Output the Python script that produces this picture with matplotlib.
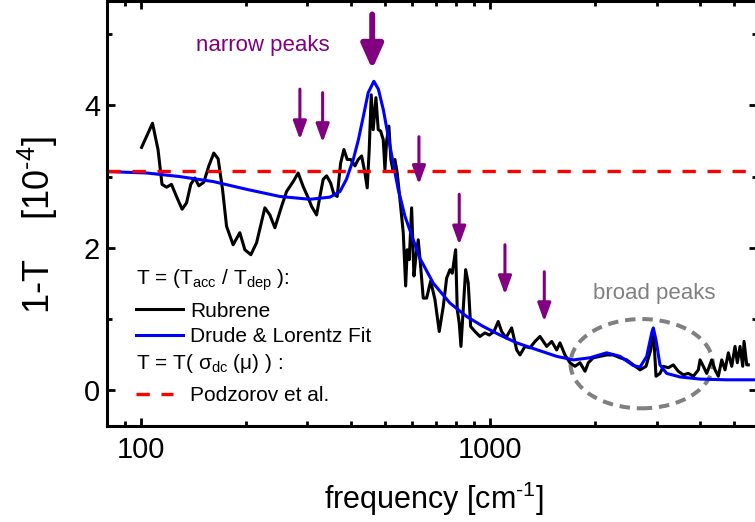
import matplotlib.pyplot as plt
from matplotlib.patches import Ellipse
from matplotlib.ticker import LogLocator, MultipleLocator, NullFormatter

plt.rcParams['font.family'] = ['Liberation Sans', 'DejaVu Sans']
plt.rcParams['mathtext.fontset'] = 'custom'
plt.rcParams['mathtext.rm'] = 'Liberation Sans'
plt.rcParams['mathtext.it'] = 'Liberation Sans:italic'
plt.rcParams['mathtext.bf'] = 'Liberation Sans:bold'

# measured 1-T of rubrene (units of 1e-4)
rub_freq = [100.5, 108, 112, 115, 118.5, 122.4, 126.5, 131.3, 135.2, 139, 142.8, 146.6,
            151.5, 156.6, 161.8, 166.5, 171.4, 176, 183.8, 192.1, 198.6, 206.6, 214.6,
            226.6, 234.2, 242.1, 253, 261.5, 273.2, 282.3, 291.7, 301.6, 308.4, 318.7,
            325.8, 332.9, 340.5, 349.6, 357.3, 365.2, 373.5, 381.7, 390.1, 399, 410.5,
            419.5, 429, 438.4, 445.1, 451, 457, 463, 471.4, 478.6, 486.2, 494.7, 500.2,
            505.8, 513.5, 520.3, 528.3, 534.3, 542.5, 552.3, 564.5, 573.5, 579.5, 587.3,
            596.6, 605.7, 613.8, 623.2, 633, 644, 658.6, 676.3, 695.7, 715.7, 734.9,
            751.5, 768.1, 779.8, 797.4, 805.9, 816.6, 825.9, 838.5, 851.9, 866.6, 880.5,
            905.8, 936.1, 967.6, 995.4, 1027, 1056, 1080, 1111, 1154, 1193, 1219, 1260,
            1302, 1346, 1391, 1454, 1503, 1553, 1587, 1640, 1695, 1752, 1811, 1872, 1913,
            1977, 2066, 2160, 2256, 2358, 2465, 2574, 2691, 2799, 2887, 2937, 2990, 3070,
            3138, 3243, 3351, 3463, 3581, 3701, 3825, 3953, 3998, 4085, 4178, 4318, 4413,
            4510, 4612, 4714, 4818, 4927, 5035, 5112, 5204, 5298, 5343, 5439, 5497]
rub_val = [3.41, 3.75, 3.38, 2.89, 2.85, 2.89, 2.72, 2.54, 2.63, 2.89, 2.98, 2.87,
           2.92, 3.15, 3.33, 3.25, 2.82, 2.30, 2.04, 2.21, 1.97, 1.90, 2.07,
           2.56, 2.46, 2.28, 2.58, 2.79, 2.93, 3.05, 2.86, 2.70, 2.58, 2.46,
           2.72, 2.96, 3.01, 2.91, 2.75, 2.72, 3.19, 3.38, 3.24, 3.24, 3.15,
           3.24, 3.29, 3.05, 2.84, 3.38, 4.15, 3.66, 4.11, 3.66, 3.64, 3.52, 3.10,
           3.50, 3.71, 3.24, 3.07, 3.24, 3.05, 2.68, 2.21, 1.46, 1.97, 1.83,
           2.56, 1.60, 1.88, 2.11, 1.74, 1.29, 1.29, 1.53, 1.27, 0.82, 1.17,
           1.57, 1.69, 1.64, 1.97, 1.13, 0.94, 0.61, 1.13, 1.69, 1.50, 0.89,
           0.82, 0.75, 0.80, 0.77, 0.82, 0.96, 0.82, 0.73, 0.87, 0.56, 0.49, 0.61,
           0.59, 0.68, 0.75, 0.61, 0.68, 0.56, 0.66, 0.49, 0.38, 0.33, 0.38, 0.26, 0.38,
           0.45, 0.47, 0.49, 0.49, 0.45, 0.42, 0.35, 0.28, 0.33, 0.56, 0.85, 0.19, 0.23,
           0.33, 0.31, 0.35, 0.26, 0.21, 0.23, 0.19, 0.28, 0.42, 0.33, 0.23, 0.42, 0.28,
           0.19, 0.42, 0.28, 0.52, 0.33, 0.61, 0.38, 0.61, 0.33, 0.68, 0.35, 0.35]

# Drude & Lorentz fit
fit_freq = [80, 104, 129, 161, 201, 250, 305, 348, 372, 388, 406, 420, 434, 448, 465,
            479, 495, 511, 528, 546, 571, 603, 630, 688, 768, 858, 957, 1068, 1193,
            1331, 1553, 1733, 1934, 2159, 2358, 2574, 2691, 2812, 2906, 2937, 2990,
            3069, 3208, 3503, 3997, 4765, 5820]
fit_val = [3.07, 3.05, 3.00, 2.93, 2.82, 2.72, 2.68, 2.71, 2.79, 2.96, 3.24, 3.52, 3.85,
           4.18, 4.34, 4.23, 3.94, 3.57, 3.19, 2.82, 2.44, 2.11, 1.85, 1.50, 1.22, 1.03,
           0.89, 0.77, 0.66, 0.58, 0.47, 0.42, 0.45, 0.52, 0.47, 0.34, 0.32, 0.47, 0.80,
           0.87, 0.70, 0.35, 0.23, 0.18, 0.15, 0.14, 0.14]

# T from sigma_dc(mu), Podzorov et al.
podz_freq = [80, 5820]
podz_val = [3.08, 3.08]

# peak markers: frequency, tail, tip
small_arrow_freq = [285.5, 331.7, 626, 816.6, 1104, 1431]
small_arrow_top = [4.23, 4.18, 3.56, 2.75, 2.04, 1.66]
small_arrow_tip = [3.52, 3.48, 2.89, 2.04, 1.34, 0.96]
big_arrow = (460, 5.28, 4.51)

purple = '#800080'
grey = '#808080'
lw_data = 2.2

fig = plt.figure(figsize=(7.55, 5.22), dpi=100)
ax = fig.add_axes([107 / 755, 96 / 522, 650 / 755, 425 / 522])

ax.plot(rub_freq, rub_val, color='black', lw=lw_data)
ax.plot(fit_freq, fit_val, color='#0000ff', lw=lw_data)
ax.plot(podz_freq, podz_val, color='#ff0000', lw=2.4, dashes=(4.0, 3.5))

for f, y0, y1 in zip(small_arrow_freq, small_arrow_top, small_arrow_tip):
    ax.annotate('', xy=(f, y1), xytext=(f, y0),
                arrowprops=dict(arrowstyle='-|>,head_length=1.1,head_width=0.4',
                                mutation_scale=10, color=purple, lw=2.2,
                                shrinkA=0, shrinkB=0))
f, y0, y1 = big_arrow
ax.annotate('', xy=(f, y1), xytext=(f, y0),
            arrowprops=dict(arrowstyle='-|>,head_length=1.45,head_width=0.65',
                            mutation_scale=10, color=purple, lw=4.3,
                            shrinkA=0, shrinkB=0))

ax.text(223.7, 4.76, 'narrow peaks', color=purple, fontsize=16,
        ha='center', va='baseline')
ax.text(2951, 1.27, 'broad peaks', color=grey, fontsize=16,
        ha='center', va='baseline')

ax.add_patch(Ellipse((0.8226, 0.1466), 0.219, 0.21, transform=ax.transAxes,
                     fill=False, edgecolor=grey, lw=2.9, linestyle=(0, (2.6, 1.7))))

# legend block
fs = 15
ax.text(0.0446, 0.332, r'T = (T$_{\mathrm{acc}}$ / T$_{\mathrm{dep}}$ ):',
        transform=ax.transAxes, fontsize=fs, va='baseline')
ax.plot([0.0446, 0.117], [0.275, 0.275], color='black', lw=lw_data,
        transform=ax.transAxes)
ax.text(0.1277, 0.257, 'Rubrene', transform=ax.transAxes, fontsize=fs, va='baseline')
ax.plot([0.0446, 0.117], [0.214, 0.214], color='#0000ff', lw=lw_data,
        transform=ax.transAxes)
ax.text(0.1277, 0.198, 'Drude & Lorentz Fit', transform=ax.transAxes, fontsize=fs,
        va='baseline')
ax.text(0.0446, 0.133, r'T = T( σ$_{\mathrm{dc}}$ (μ) ) :',
        transform=ax.transAxes, fontsize=fs, va='baseline')
ax.plot([0.0446, 0.1015], [0.0753, 0.0753], color='#ff0000', lw=2.4,
        dashes=(4.0, 3.5), transform=ax.transAxes)
ax.text(0.1277, 0.0595, 'Podzorov et al.', transform=ax.transAxes, fontsize=fs,
        va='baseline')

ax.set_xscale('log')
ax.set_xlim(80, 5820)
ax.set_ylim(-0.51, 5.47)
ax.set_xticks([100, 1000], ['100', '1000'])
ax.xaxis.set_minor_locator(LogLocator(base=10, subs=range(2, 10)))
ax.xaxis.set_minor_formatter(NullFormatter())
ax.set_yticks([0, 2, 4], ['0', '2', '4'])
ax.yaxis.set_minor_locator(MultipleLocator(1))

ax.tick_params(which='both', direction='in', top=True, right=True, width=2.0,
               labelsize=21)
ax.tick_params(which='major', length=6)
ax.tick_params(which='minor', length=3.6)
ax.tick_params(axis='x', pad=7)
ax.tick_params(axis='y', pad=5)
for s in ax.spines.values():
    s.set_linewidth(2.2)

ax.set_xlabel(r'frequency [cm$^{\text{-}1}$]', fontsize=22, va='center')
ax.xaxis.set_label_coords(0.503, -0.171)
ax.set_ylabel(r'1-T    [10$^{\text{-}4}$]', fontsize=26, va='center')
ax.yaxis.set_label_coords(-0.106, 0.472)

fig.savefig('out.png', dpi=100)
